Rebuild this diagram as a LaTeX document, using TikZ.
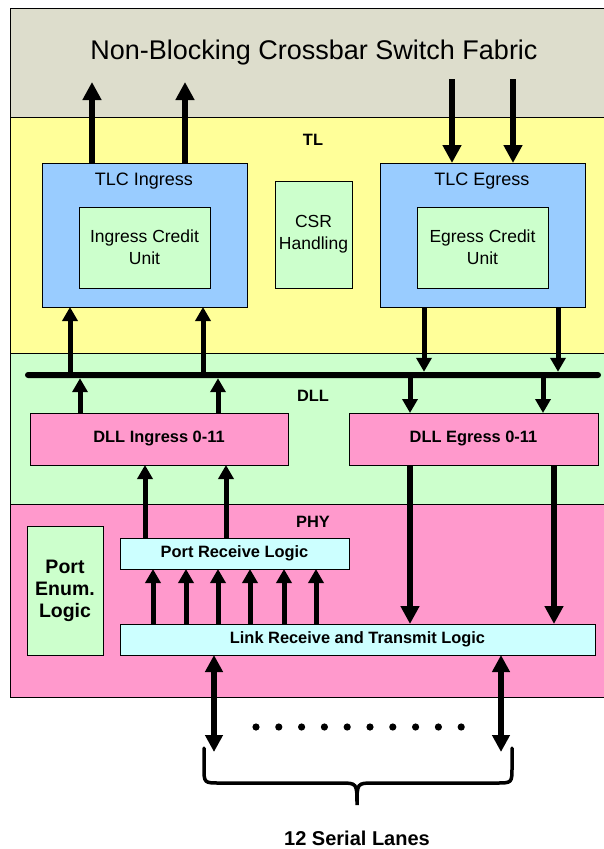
\documentclass[tikz,border=0pt]{standalone}
\usepackage{fontspec}
\setmainfont{Liberation Sans}
\usetikzlibrary{arrows.meta}
\definecolor{fabricgray}{RGB}{221,221,204}
\definecolor{tlyellow}{RGB}{255,255,153}
\definecolor{dllgreen}{RGB}{204,255,204}
\definecolor{phypink}{RGB}{255,153,204}
\definecolor{tlcblue}{RGB}{153,204,255}
\definecolor{logiccyan}{RGB}{204,255,255}
\begin{document}
\begin{tikzpicture}[x=1pt,y=-1pt]
        \tikzstyle{band}=[draw=black,line width=0.7pt,inner sep=0pt,outer sep=0pt,anchor=north west]
        \tikzstyle{block}=[draw=black,line width=0.7pt,inner sep=0pt,outer sep=0pt,anchor=north west,align=center]
        \tikzstyle{title}=[font=\fontsize{18}{21}\selectfont]
        \tikzstyle{bold}=[font=\bfseries\fontsize{16.4}{19}\selectfont]
        \tikzstyle{edge}=[draw,line width=5.5pt,-{Triangle[width=18pt,length=18pt]}]
        \tikzstyle{short edge}=[draw,line width=5pt,-{Triangle[width=15pt,length=14pt]}]
        \useasboundingbox (0,0) rectangle (604,849);
        % layers
        \node [band,fill=fabricgray,minimum width=600,minimum height=109] (fabric) at (10,8) {};
        \node [band,fill=tlyellow,minimum width=600,minimum height=236] (tl) at (10,117) {};
        \node [band,fill=dllgreen,minimum width=600,minimum height=151] (dll) at (10,353) {};
        \node [band,fill=phypink,minimum width=600,minimum height=193] (phy) at (10,504) {};
        \node [font=\fontsize{27}{31}\selectfont,anchor=base] (fabrictext) at (314,59) {Non-Blocking Crossbar Switch Fabric};
        \node [bold] (tltext) at (313,140) {TL};
        \node [bold] (dlltext) at (313,396) {DLL};
        \node [bold] (phytext) at (313,522) {PHY};
        % TL blocks
        \node [block,fill=tlcblue,minimum width=205,minimum height=144] (tlci) at (42,163) {};
        \node [title] (tlcitext) at (144,181) {TLC Ingress};
        \node [block,fill=dllgreen,minimum width=131,minimum height=81,font=\fontsize{17.5}{22}\selectfont] (icu) at (79,207) {Ingress Credit\\Unit};
        \node [block,fill=dllgreen,minimum width=77,minimum height=107,font=\fontsize{17.5}{22}\selectfont] (csr) at (275,181) {CSR\\Handling};
        \node [block,fill=tlcblue,minimum width=205,minimum height=144] (tlce) at (380,163) {};
        \node [title] (tlcetext) at (482,181) {TLC Egress};
        \node [block,fill=dllgreen,minimum width=131,minimum height=81,font=\fontsize{17.5}{22}\selectfont] (ecu) at (417,207) {Egress Credit\\Unit};
        % DLL blocks
        \node [fill=black,rounded corners=3pt,inner sep=0pt,minimum width=576,minimum height=6] (bus) at (313,375) {};
        \node [block,fill=phypink,minimum width=258,minimum height=52,bold] (dlli) at (30,413) {DLL Ingress 0-11};
        \node [block,fill=phypink,minimum width=249,minimum height=52,bold] (dlle) at (349,413) {DLL Egress 0-11};
        % PHY blocks
        \node [block,fill=dllgreen,minimum width=76,minimum height=129,font=\bfseries\fontsize{19.5}{22}\selectfont] (penum) at (27,526) {Port\\Enum.\\Logic};
        \node [block,fill=logiccyan,minimum width=229,minimum height=31,bold] (prl) at (120,538) {Port Receive Logic};
        \node [block,fill=logiccyan,minimum width=475,minimum height=31,bold] (lrtl) at (120,624) {Link Receive and Transmit Logic};
        % TL <-> fabric
        \coordinate (fabout1) at (92,82);
        \coordinate (fabout2) at (185,82);
        \coordinate (fabin1) at (452,79);
        \coordinate (fabin2) at (513,79);
        \path[edge] (tlci.north -| fabout1) -- (fabout1);
        \path[edge] (tlci.north -| fabout2) -- (fabout2);
        \path[edge] (fabin1) -- (tlce.north -| fabin1);
        \path[edge] (fabin2) -- (tlce.north -| fabin2);
        % bus
        \foreach \x in {70,203} {
           \coordinate (col) at (\x,0);
           \path[short edge] (bus.center -| col) -- (tlci.south -| col);
        }
        \foreach \x in {424,558} {
           \coordinate (col) at (\x,0);
           \path[short edge] (tlce.south -| col) -- (bus.north -| col);
        }
        \foreach \x in {80,218} {
           \coordinate (col) at (\x,0);
           \path[short edge] (dlli.north -| col) -- (bus.south -| col);
        }
        \foreach \x in {410,543} {
           \coordinate (col) at (\x,0);
           \path[short edge] (bus.center -| col) -- (dlle.north -| col);
        }
        % PHY
        \foreach \x in {145,226} {
           \coordinate (col) at (\x,0);
           \path[short edge] (prl.north -| col) -- (dlli.south -| col);
        }
        \foreach \x in {153,186,218,250,284,316} {
           \coordinate (col) at (\x,0);
           \path[short edge] (lrtl.north -| col) -- (prl.south -| col);
        }
        \foreach \x in {410,554} {
           \coordinate (col) at (\x,0);
           \path[edge] (dlle.south -| col) -- (lrtl.north -| col);
        }
        % serial lanes
        \coordinate (lane1) at (214,752);
        \coordinate (lane2) at (501,752);
        \path[edge,{Triangle[width=17pt,length=17pt]}-{Triangle[width=17pt,length=17pt]}] (lrtl.south -| lane1) -- (lane1);
        \path[edge,{Triangle[width=17pt,length=17pt]}-{Triangle[width=17pt,length=17pt]}] (lrtl.south -| lane2) -- (lane2);
        \foreach \i in {0,...,9}
           \fill (256+22.8*\i,727) circle (3.6);
        \draw[line width=3.5pt,line cap=round] (204,748) -- (204,767) .. controls (204,783) .. (220,783) -- (340,783) .. controls (357,783) .. (357,805) .. controls (357,783) .. (374,783) -- (496,783) .. controls (512,783) .. (512,767) -- (512,748);
        \node [font=\bfseries\fontsize{20}{23}\selectfont,anchor=base,inner sep=0pt] (lanes) at (357,845) {12 Serial Lanes};
\end{tikzpicture}
\end{document}
